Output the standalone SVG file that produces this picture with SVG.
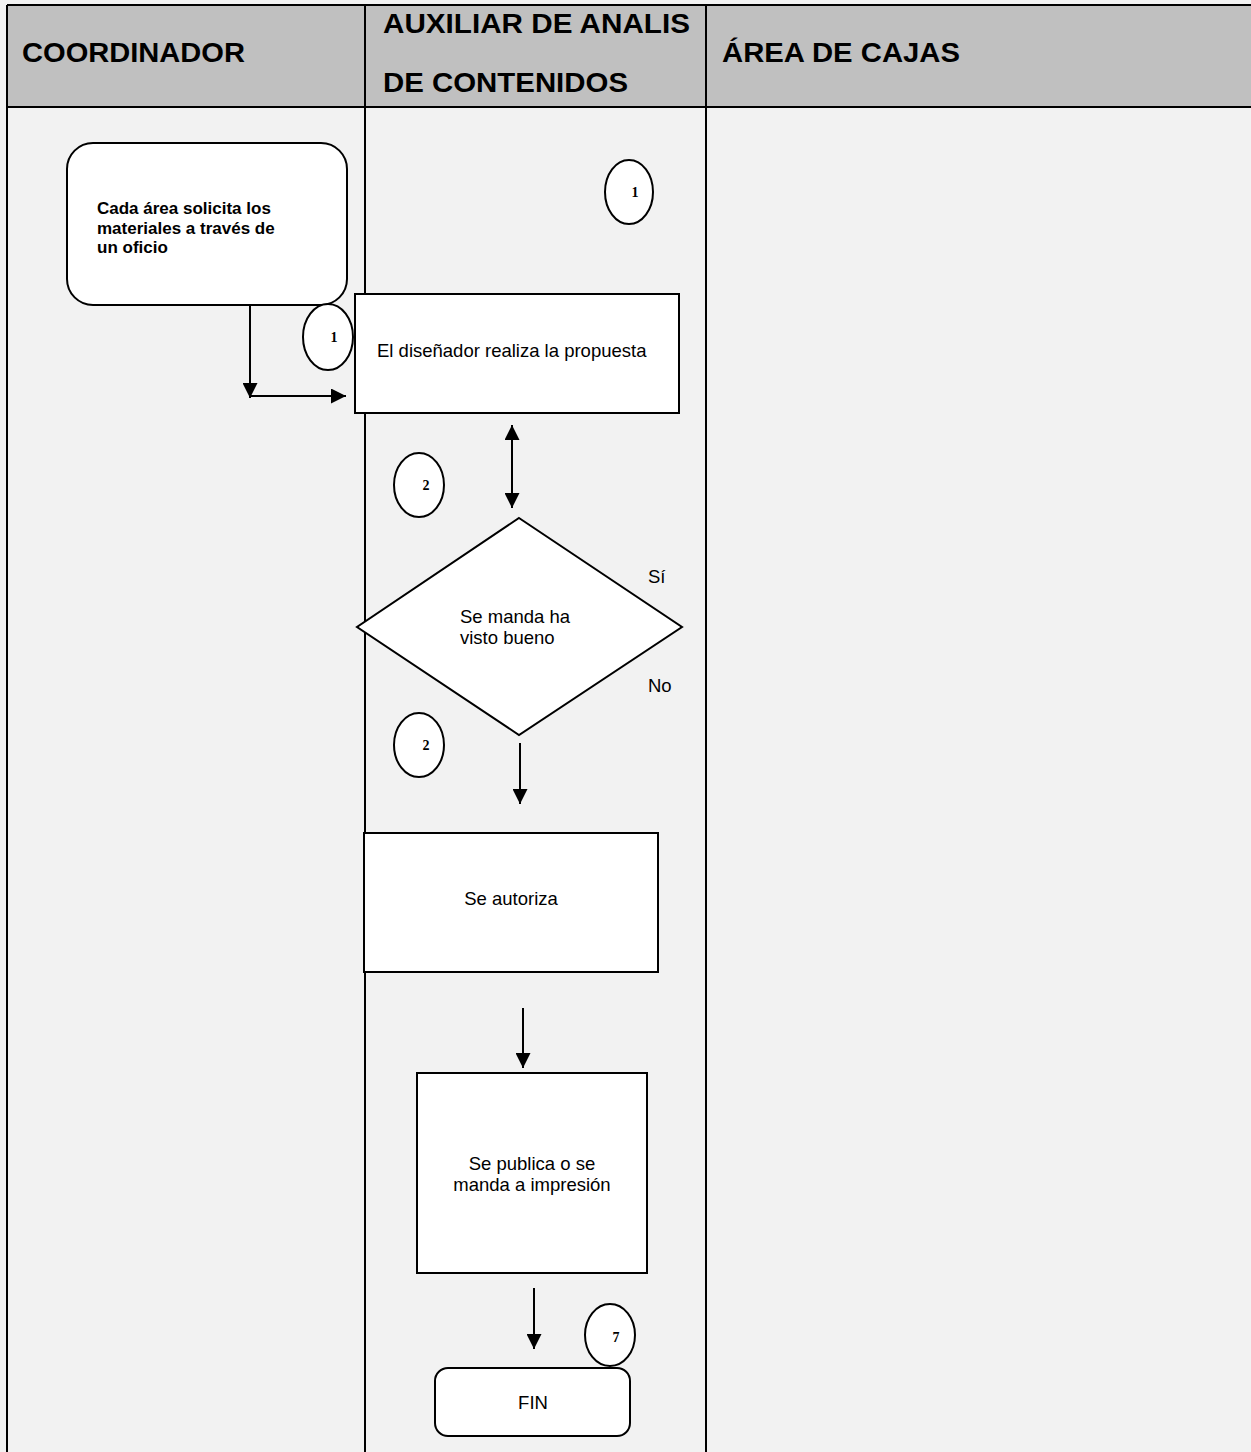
<svg xmlns="http://www.w3.org/2000/svg" width="1251" height="1452" viewBox="0 0 1251 1452">
<style>
.hdr{font-family:"Liberation Sans",Arial,sans-serif;font-weight:bold;font-size:27px;fill:#000}
.box{fill:#fff;stroke:#000;stroke-width:2}
.t{font-family:"Liberation Sans",Arial,sans-serif;font-size:18.5px;fill:#000}
.tb{font-family:"Liberation Sans",Arial,sans-serif;font-size:17px;font-weight:bold;fill:#000}
.num{font-family:"Liberation Serif","Times New Roman",serif;font-size:14px;font-weight:bold;fill:#000}
.conn{stroke:#000;stroke-width:2;fill:none}
.grid{stroke:#000;stroke-width:2;fill:none}
</style>
<defs>
<marker id="ah" viewBox="0 0 10 10" refX="10" refY="5" markerWidth="15" markerHeight="15" markerUnits="userSpaceOnUse" orient="auto-start-reverse">
<path d="M0,0 L10,5 L0,10 z" fill="#000"/>
</marker>
</defs>
<rect x="0" y="0" width="1251" height="1452" fill="#f2f2f2"/>
<g id="table">
<rect x="7" y="5" width="1250" height="102" fill="#c0c0c0"/>
<line class="grid" x1="7" y1="5" x2="1251" y2="5"/>
<line class="grid" x1="7" y1="107" x2="1251" y2="107"/>
<line class="grid" x1="7" y1="5" x2="7" y2="1452"/>
<line class="grid" x1="365" y1="5" x2="365" y2="1452"/>
<line class="grid" x1="706" y1="5" x2="706" y2="1452"/>
<text class="hdr" x="22" y="62" textLength="223" lengthAdjust="spacingAndGlyphs">COORDINADOR</text>
<text class="hdr" x="383" y="33" textLength="307" lengthAdjust="spacingAndGlyphs">AUXILIAR DE ANALIS</text>
<text class="hdr" x="383" y="92" textLength="245" lengthAdjust="spacingAndGlyphs">DE CONTENIDOS</text>
<text class="hdr" x="722" y="62" textLength="238" lengthAdjust="spacingAndGlyphs">ÁREA DE CAJAS</text>
</g>
<g id="connectors">
<polyline class="conn" points="250,297 250,398" marker-end="url(#ah)"/>
<polyline class="conn" points="250,396 346,396" marker-end="url(#ah)"/>
<line class="conn" x1="512" y1="425" x2="512" y2="508" marker-start="url(#ah)" marker-end="url(#ah)"/>
<line class="conn" x1="520" y1="743" x2="520" y2="804" marker-end="url(#ah)"/>
<line class="conn" x1="523" y1="1008" x2="523" y2="1068" marker-end="url(#ah)"/>
<line class="conn" x1="534" y1="1288" x2="534" y2="1349" marker-end="url(#ah)"/>
</g>
<g id="n_solicita">
<rect class="box" x="67" y="143" width="280" height="162" rx="26"/>
<text class="tb" x="97" y="214">Cada área solicita los</text>
<text class="tb" x="97" y="234">materiales a través de</text>
<text class="tb" x="97" y="253">un oficio</text>
</g>
<g id="c1a">
<ellipse class="box" cx="629" cy="192" rx="24" ry="32"/>
<text class="num" x="635" y="197" text-anchor="middle">1</text>
</g>
<g id="c1b">
<ellipse class="box" cx="328" cy="337" rx="25" ry="33"/>
<text class="num" x="334" y="342" text-anchor="middle">1</text>
</g>
<g id="n_propuesta">
<rect class="box" x="355" y="294" width="324" height="119"/>
<text class="t" x="377" y="357">El diseñador realiza la propuesta</text>
</g>
<g id="c2a">
<ellipse class="box" cx="419" cy="485" rx="25" ry="32"/>
<text class="num" x="426" y="490" text-anchor="middle">2</text>
</g>
<g id="n_decision">
<polygon class="box" points="519,518 682,627 519,735 357,627"/>
<text class="t" x="460" y="623">Se manda ha</text>
<text class="t" x="460" y="644">visto bueno</text>
<text class="t" x="648" y="583">Sí</text>
<text class="t" x="648" y="692">No</text>
</g>
<g id="c2b">
<ellipse class="box" cx="419" cy="745" rx="25" ry="32"/>
<text class="num" x="426" y="741" text-anchor="middle" dy="9">2</text>
</g>
<g id="n_autoriza">
<rect class="box" x="364" y="833" width="294" height="139"/>
<text class="t" x="511" y="905" text-anchor="middle">Se autoriza</text>
</g>
<g id="n_publica">
<rect class="box" x="417" y="1073" width="230" height="200"/>
<text class="t" x="532" y="1170" text-anchor="middle">Se publica o se</text>
<text class="t" x="532" y="1191" text-anchor="middle">manda a impresión</text>
</g>
<g id="c7">
<ellipse class="box" cx="610" cy="1335" rx="25" ry="31"/>
<text class="num" x="616" y="1342" text-anchor="middle">7</text>
</g>
<g id="n_fin">
<rect class="box" x="435" y="1368" width="195" height="68" rx="13"/>
<text class="t" x="533" y="1409" text-anchor="middle">FIN</text>
</g>
</svg>
